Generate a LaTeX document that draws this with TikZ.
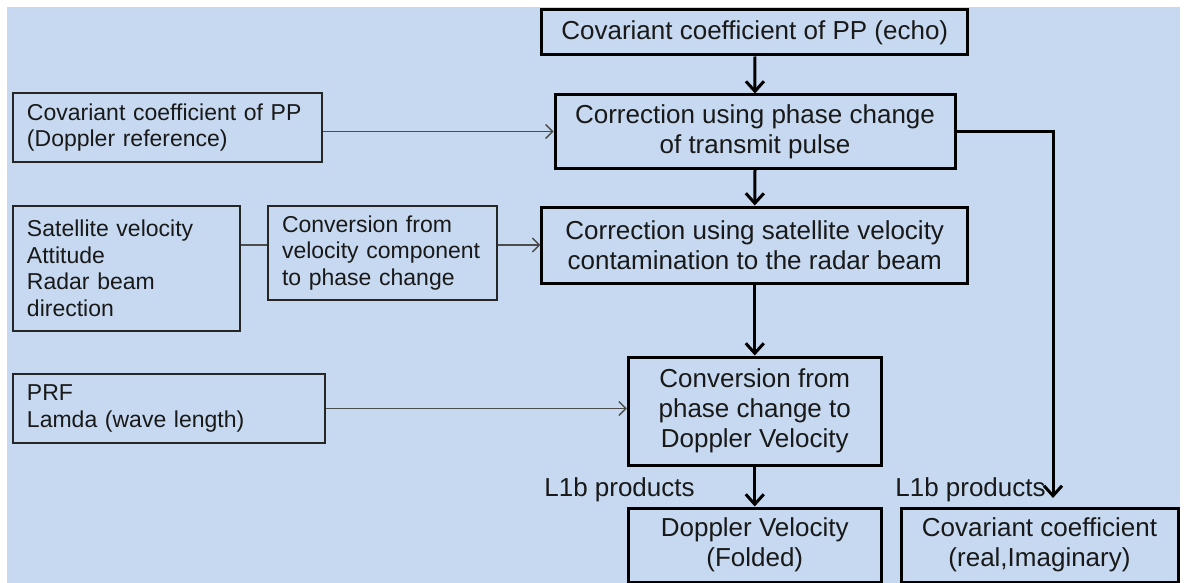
\documentclass[tikz,border=0pt]{standalone}
\usepackage{fontspec}
\setmainfont{Liberation Sans}
\usepackage{tikz}
\usetikzlibrary{arrows.meta}
\usetikzlibrary{positioning}

\definecolor{bgblue}{RGB}{198,217,240}
\definecolor{inkgray}{RGB}{25,25,25}
\newcommand{\boxfont}{\fontsize{26}{30}\selectfont}
\newcommand{\infont}{\fontsize{23}{26.5}\selectfont}

\begin{document}
\begin{tikzpicture}[x=1pt, y=-1pt,
    stepbox/.style={draw=black, line width=3pt, align=center, inner sep=0pt,
      text=inkgray, font=\boxfont},
    inbox/.style={draw=black!85, line width=2pt, align=left, inner sep=0pt,
      text=inkgray, font=\infont},
    bigarrow/.style={line width=3pt, -{Straight Barb[length=10pt,width=18pt]}},
    smallarrow/.style={draw=black!70, line width=1.3pt, -{Straight Barb[length=7pt,width=14pt]}},
    prodlabel/.style={text=inkgray, font=\boxfont, inner sep=0pt}]

      % Page and background
      \useasboundingbox (0,0) rectangle (1186,583);
      \fill[bgblue] (7,7) rectangle (1180,583);

      % Main processing chain
      \node[stepbox, minimum width=426, minimum height=45] (echo) at (754.75,32.5)
        {Covariant coefficient of PP (echo)};
      \node[stepbox, minimum width=400, minimum height=73] (pulse) at (755,131.5)
        {Correction using phase change\\of transmit pulse};
      \node[stepbox, minimum width=426, minimum height=76] (satvel) at (754.75,245)
        {Correction using satellite velocity\\contamination to the radar beam};
      \node[stepbox, minimum width=253, minimum height=108] (phase) at (754.75,411)
        {Conversion from\\phase change to\\Doppler Velocity};

      % Outputs
      \node[stepbox, minimum width=253, minimum height=74] (folded) at (754.75,545)
        {Doppler Velocity\\(Folded)};
      \node[stepbox, minimum width=277, minimum height=74] (covout) at (1039.5,545)
        {Covariant coefficient\\(real,Imaginary)};
      \node[prodlabel] (prodleft) at (619.5,490) {L1b products};
      \node[prodlabel] (prodright) at (970.5,490) {L1b products};

      % Inputs on the left
      \node[inbox, minimum width=309, minimum height=69, text width=281] (dopref) at (167.5,127.5)
        {Covariant coefficient of PP\\(Doppler reference)};
      \node[inbox, minimum width=227, minimum height=125, text width=199] (sat) at (126.5,268.5)
        {Satellite velocity\\Attitude\\Radar beam\\direction};
      \node[inbox, minimum width=229, minimum height=94, text width=201] (conv) at (382.5,253)
        {Conversion from\\velocity component\\to phase change};
      \node[inbox, minimum width=312, minimum height=69, text width=284] (prf) at (169,408.5)
        {PRF\\Lamda (wave length)};

      % Thick arrows down the chain
      \foreach \a/\b in {echo/pulse, pulse/satvel, satvel/phase, phase/folded} {
        \draw[bigarrow] (\a.south) -- (\b.north);
      }

      % Branch to the covariance output
      \coordinate (covin) at (1053,498);
      \draw[bigarrow] (pulse.east) -| (covin);

      % Thin arrows from the inputs
      \draw[smallarrow] (dopref.east |- pulse.west) -- (pulse.west);
      \draw[draw=black!70, line width=1.3pt] (sat.east |- satvel.west) -- (conv.west |- satvel.west);
      \draw[smallarrow] (conv.east |- satvel.west) -- (satvel.west);
      \draw[smallarrow] (prf.east) -- (prf.east -| phase.west);
\end{tikzpicture}
\end{document}
